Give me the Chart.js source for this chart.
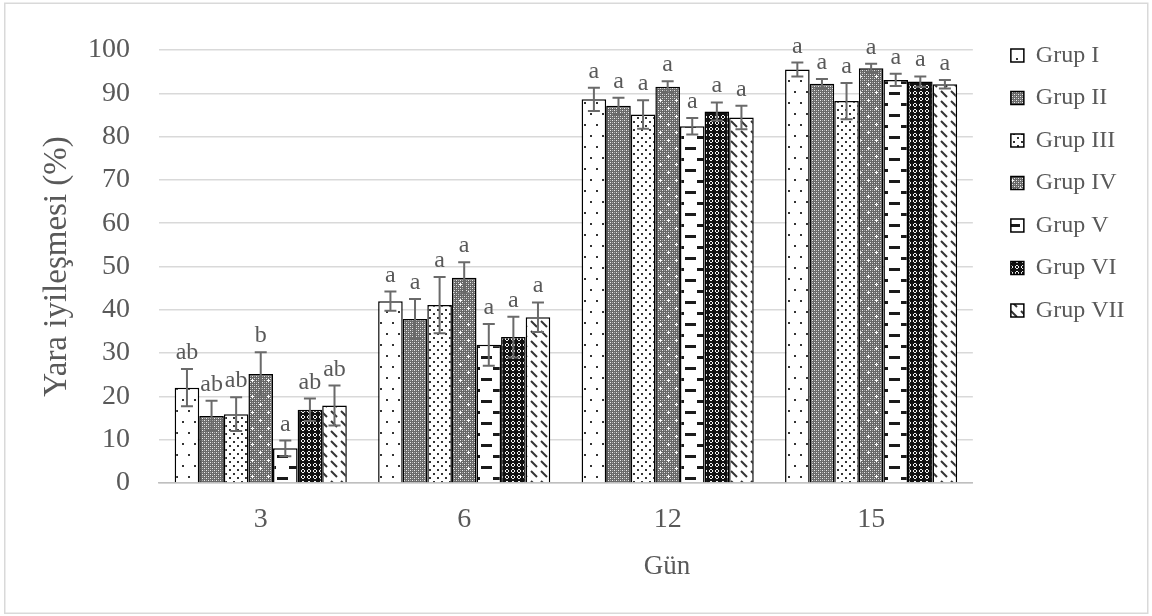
<!DOCTYPE html>
<html>
<head>
<meta charset="utf-8">
<script src="https://cdn.jsdelivr.net/npm/chart.js@4/dist/chart.umd.min.js"></script>
<style>
  html, body { margin: 0; padding: 0; background: #fff; }
  #wrap { width: 1152px; height: 616px; }
</style>
</head>
<body>
<div id="wrap"><canvas id="c" width="1152" height="616"></canvas></div>
<script>
// Days of measurement (x categories)
const days = ['3', '6', '12', '15'];
const groupNames = ['Grup I', 'Grup II', 'Grup III', 'Grup IV', 'Grup V', 'Grup VI', 'Grup VII'];

// Mean wound healing (%) per group, one value per day
const grupI   = [22.0, 42.0, 88.6, 95.5];
const grupII  = [15.5, 37.9, 87.1, 92.2];
const grupIII = [15.9, 41.1, 85.1, 88.2];
const grupIV  = [25.2, 47.4, 91.5, 95.8];
const grupV   = [8.0, 31.9, 82.4, 93.1];
const grupVI  = [16.9, 33.7, 85.8, 92.7];
const grupVII = [17.9, 38.3, 84.4, 92.1];

// Standard errors
const errI   = [4.3, 2.2, 2.7, 1.6];
const errII  = [3.5, 4.6, 1.9, 1.1];
const errIII = [3.9, 6.5, 3.3, 4.2];
const errIV  = [5.0, 3.6, 1.3, 1.0];
const errV   = [1.8, 4.8, 1.9, 1.4];
const errVI  = [2.6, 4.7, 2.1, 1.2];
const errVII = [4.6, 3.4, 2.7, 1.0];

// Significance letters
const letI   = ['ab', 'a', 'a', 'a'];
const letII  = ['ab', 'a', 'a', 'a'];
const letIII = ['ab', 'a', 'a', 'a'];
const letIV  = ['b', 'a', 'a', 'a'];
const letV   = ['a', 'a', 'a', 'a'];
const letVI  = ['ab', 'a', 'a', 'a'];
const letVII = ['ab', 'a', 'a', 'a'];

// Y axis ticks
const yMin = 0, yMax = 100, yStep = 10;

// Axis captions
const xCaption = 'Gün';
const yCaption = 'Yara iyileşmesi (%)';

const seriesValues = [grupI, grupII, grupIII, grupIV, grupV, grupVI, grupVII];
const seriesErrors = [errI, errII, errIII, errIV, errV, errVI, errVII];
const seriesLetters = [letI, letII, letIII, letIV, letV, letVI, letVII];

const SERIF = "'Liberation Serif', 'Times New Roman', 'DejaVu Serif', serif";
const TEXT = '#595959';

// ---- fill patterns for the bars ----
function tile(w, h, bg, paint) {
  const c = document.createElement('canvas');
  c.width = w; c.height = h;
  const g = c.getContext('2d');
  g.fillStyle = bg; g.fillRect(0, 0, w, h);
  paint(g);
  return g.createPattern(c, 'repeat');
}
function px(g, color, pts, s) {
  g.fillStyle = color;
  pts.forEach(p => g.fillRect(p[0], p[1], s || 1, s || 1));
}
const patterns = [
  // sparse dots
  tile(12, 22, '#fff', g => px(g, '#333', [[2, 3], [8, 14]], 2)),
  // grey checker
  tile(4, 4, '#6a6a6a', g => { px(g, '#eeeeee', [[0, 0], [2, 2]]); px(g, '#aaaaaa', [[2, 0], [0, 2]]); }),
  // medium dots
  tile(8, 8, '#fff', g => px(g, '#333', [[1, 1], [5, 5]], 2)),
  // grey checker with light sparkles
  tile(16, 16, '#666', g => {
    for (let y = 0; y < 16; y += 2) for (let x = 0; x < 16; x += 2) {
      px(g, ((x + y) % 4 === 0) ? '#e8e8e8' : '#a5a5a5', [[x, y]]);
    }
    px(g, '#fff', [[3, 4], [4, 3], [4, 4], [5, 4], [4, 5], [11, 12], [12, 11], [12, 12], [13, 12], [12, 13]]);
  }),
  // horizontal dashes
  tile(24, 22, '#fff', g => { g.fillStyle = '#1a1a1a'; g.fillRect(1, 4, 11, 3); g.fillRect(13, 15, 11, 3); }),
  // dark lattice
  tile(6, 6, '#111', g => px(g, '#f2f2f2', [[1, 2], [1, 3], [2, 1], [3, 1], [4, 2], [4, 3], [2, 4], [3, 4]])),
  // diagonal dashes
  tile(10, 10, '#fff', g => {
    g.strokeStyle = '#333'; g.lineWidth = 2; g.lineCap = 'butt';
    g.beginPath(); g.moveTo(1, 1); g.lineTo(7, 7); g.stroke();
  })
];

// ---- plugins ----
// light chart-area frame
const framePlugin = {
  id: 'frame',
  beforeDraw(chart) {
    const c = chart.ctx;
    c.save();
    c.strokeStyle = '#d9d9d9';
    c.lineWidth = 1.5;
    c.strokeRect(4.75, 3.25, 1143, 610);
    c.restore();
  }
};

// keep the legend column a little away from the plot and level with the top grid line
const legendOffset = { x: 19.5, y: -25 };
const legendPlace = {
  id: 'legendPlace',
  afterLayout(chart) {
    const lg = chart.legend;
    const w = lg.right - lg.left;
    lg.left = chart.chartArea.right + legendOffset.x;
    lg.right = lg.left + w;
    lg.top = chart.chartArea.top + legendOffset.y;
  }
};

// x axis caption, sitting under the right half of the category axis
const xCaptionPlugin = {
  id: 'xCaption',
  afterDraw(chart) {
    const c = chart.ctx;
    const xs = chart.scales.x;
    c.save();
    c.fillStyle = TEXT;
    c.font = '27px ' + SERIF;
    c.textAlign = 'center';
    c.textBaseline = 'middle';
    c.fillText(xCaption, 667, xs.bottom - 29);
    c.restore();
  }
};

// error bars and significance letters on top of every bar
const errorBars = {
  id: 'errorBars',
  afterDatasetsDraw(chart) {
    const c = chart.ctx;
    const ys = chart.scales.y;
    c.save();
    chart.data.datasets.forEach((ds, i) => {
      const meta = chart.getDatasetMeta(i);
      meta.data.forEach((bar, j) => {
        const v = ds.data[j];
        const e = seriesErrors[i][j];
        const yt = ys.getPixelForValue(v + e);
        const yb = ys.getPixelForValue(v - e);
        const x = bar.x;
        c.strokeStyle = '#6a6a6a';
        c.lineWidth = 2;
        c.beginPath();
        c.moveTo(x, yt); c.lineTo(x, yb);
        c.moveTo(x - 6, yt); c.lineTo(x + 6, yt);
        c.moveTo(x - 6, yb); c.lineTo(x + 6, yb);
        c.stroke();
        c.fillStyle = TEXT;
        c.font = '24px ' + SERIF;
        c.textAlign = 'center';
        c.textBaseline = 'alphabetic';
        c.fillText(seriesLetters[i][j], x, yt - 10);
      });
    });
    c.restore();
  }
};

const datasets = groupNames.map((name, i) => ({
  label: name,
  data: seriesValues[i],
  backgroundColor: patterns[i],
  borderColor: '#000',
  borderWidth: 1.5,
  categoryPercentage: 0.846,
  barPercentage: 1.0
}));

new Chart(document.getElementById('c'), {
  type: 'bar',
  data: { labels: days, datasets },
  plugins: [framePlugin, legendPlace, errorBars, xCaptionPlugin],
  options: {
    responsive: false,
    animation: false,
    layout: { padding: { left: 38, top: 50, right: 37, bottom: 20 } },
    plugins: {
      tooltip: { enabled: false },
      legend: {
        position: 'right',
        align: 'start',
        labels: {
          font: { family: SERIF, size: 24 },
          color: TEXT,
          boxWidth: 13,
          boxHeight: 13,
          padding: 18.5
        }
      }
    },
    scales: {
      x: {
        grid: { display: false, drawTicks: false },
        border: { display: true, color: '#bfbfbf', width: 1.5 },
        ticks: { font: { family: SERIF, size: 28 }, color: TEXT, padding: 20 },
        afterFit(s) { s.height = 113; }
      },
      y: {
        min: yMin,
        max: yMax,
        ticks: { stepSize: yStep, font: { family: SERIF, size: 28 }, color: TEXT, padding: 29 },
        grid: { color: '#d9d9d9', lineWidth: 1.5, drawTicks: false },
        border: { display: false },
        title: { display: true, text: yCaption, font: { family: SERIF, size: 33 }, color: TEXT, padding: { top: 0, bottom: 0 } },
        afterFit(s) { s.width = 121; }
      }
    }
  }
});
</script>
</body>
</html>
